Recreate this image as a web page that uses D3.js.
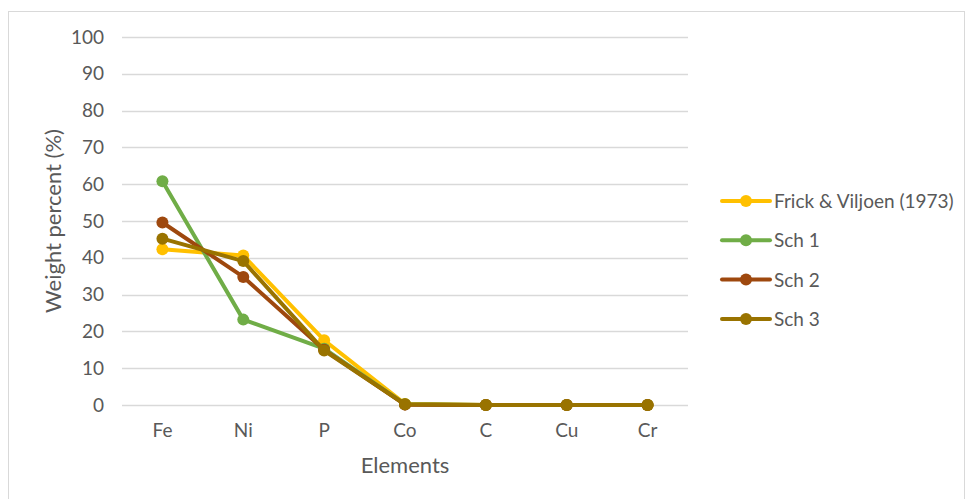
<!DOCTYPE html>
<html>
<head>
<meta charset="utf-8">
<script src="https://cdn.jsdelivr.net/npm/d3@7"></script>
<style>
  html, body { margin: 0; padding: 0; background: #fff; }
  svg { display: block; font-family: Lato, "Open Sans", sans-serif; }
</style>
</head>
<body>
<div id="chart"></div>
<script>
// Chart data
const elements = ['Fe', 'Ni', 'P', 'Co', 'C', 'Cu', 'Cr'];
const seriesNames = ['Frick & Viljoen (1973)', 'Sch 1', 'Sch 2', 'Sch 3'];
const frick = [42.3, 40.6, 17.6, 0.3, 0, 0, 0];
const sch1 = [60.8, 23.2, 15.3, 0.2, 0, 0, 0];
const sch2 = [49.6, 34.8, 15.0, 0.1, 0, 0, 0];
const sch3 = [45.2, 39.1, 14.8, 0.2, 0, 0, 0];
const yTicks = [0, 10, 20, 30, 40, 50, 60, 70, 80, 90, 100];
const colors = ['#FFC000', '#70AD47', '#9E480E', '#997300'];

const FONT = 'Lato, "Open Sans", sans-serif';
const W = 966, H = 499;
const margin = { top: 37, left: 122, right: 278, bottom: 94 };
const width = W - margin.left - margin.right;
const height = H - margin.top - margin.bottom;

const svg = d3.select('#chart').append('svg')
    .attr('width', W)
    .attr('height', H);

// outer chart border
svg.append('rect')
    .attr('x', 8.5).attr('y', 11.5)
    .attr('width', 956).attr('height', 500)
    .attr('fill', 'none')
    .attr('stroke', '#d9d9d9')
    .attr('stroke-width', 1);

const g = svg.append('g')
    .attr('transform', `translate(${margin.left},${margin.top})`);

const x = d3.scaleBand().domain(elements).range([0, width]);
const y = d3.scaleLinear().domain([0, 100]).range([height, 0]);

// gridlines
g.append('g')
    .selectAll('line')
    .data(yTicks)
    .join('line')
    .attr('x1', 0).attr('x2', width)
    .attr('y1', d => Math.round(y(d)) + 0.5)
    .attr('y2', d => Math.round(y(d)) + 0.5)
    .attr('stroke', '#d9d9d9')
    .attr('stroke-width', 1.3);

// y axis labels
const yAxis = g.append('g')
    .call(d3.axisLeft(y).tickValues(yTicks).tickSize(0).tickPadding(18));
yAxis.select('.domain').remove();
yAxis.selectAll('text')
    .attr('fill', '#595959')
    .attr('font-size', '19px')
    .attr('font-family', FONT);

// x axis labels
const xAxis = g.append('g')
    .attr('transform', `translate(0,${height})`)
    .call(d3.axisBottom(x).tickSize(0).tickPadding(19));
xAxis.select('.domain').remove();
xAxis.selectAll('text')
    .attr('fill', '#595959')
    .attr('font-size', '19px')
    .attr('font-family', FONT);

// axis titles
svg.append('text')
    .attr('transform', 'rotate(-90)')
    .attr('x', -221)
    .attr('y', 61)
    .attr('text-anchor', 'middle')
    .attr('fill', '#595959')
    .attr('font-size', '22px')
    .text('Weight percent (%)');

svg.append('text')
    .attr('x', margin.left + width / 2)
    .attr('y', 473)
    .attr('text-anchor', 'middle')
    .attr('fill', '#595959')
    .attr('font-size', '22px')
    .text('Elements');

// series
const allSeries = [frick, sch1, sch2, sch3];
const line = d3.line()
    .x((d, i) => x(elements[i]) + x.bandwidth() / 2)
    .y(d => y(d));

allSeries.forEach((vals, si) => {
    const sg = g.append('g');
    sg.append('path')
        .datum(vals)
        .attr('fill', 'none')
        .attr('stroke', colors[si])
        .attr('stroke-width', 4)
        .attr('stroke-linejoin', 'round')
        .attr('stroke-linecap', 'round')
        .attr('d', line);
    sg.selectAll('circle')
        .data(vals)
        .join('circle')
        .attr('cx', (d, i) => x(elements[i]) + x.bandwidth() / 2)
        .attr('cy', d => y(d))
        .attr('r', 6)
        .attr('fill', colors[si]);
});

// legend
const legend = svg.append('g').attr('transform', 'translate(722,201)');
seriesNames.forEach((name, i) => {
    const lg = legend.append('g').attr('transform', `translate(0,${i * 39.3})`);
    lg.append('line')
        .attr('x1', 0).attr('x2', 48)
        .attr('y1', 0).attr('y2', 0)
        .attr('stroke', colors[i])
        .attr('stroke-width', 4)
        .attr('stroke-linecap', 'round');
    lg.append('circle')
        .attr('cx', 24).attr('cy', 0).attr('r', 6)
        .attr('fill', colors[i]);
    lg.append('text')
        .attr('x', 52).attr('y', 7)
        .attr('fill', '#595959')
        .attr('font-size', '19px')
        .attr('font-family', FONT)
        .text(name);
});
</script>
</body>
</html>
